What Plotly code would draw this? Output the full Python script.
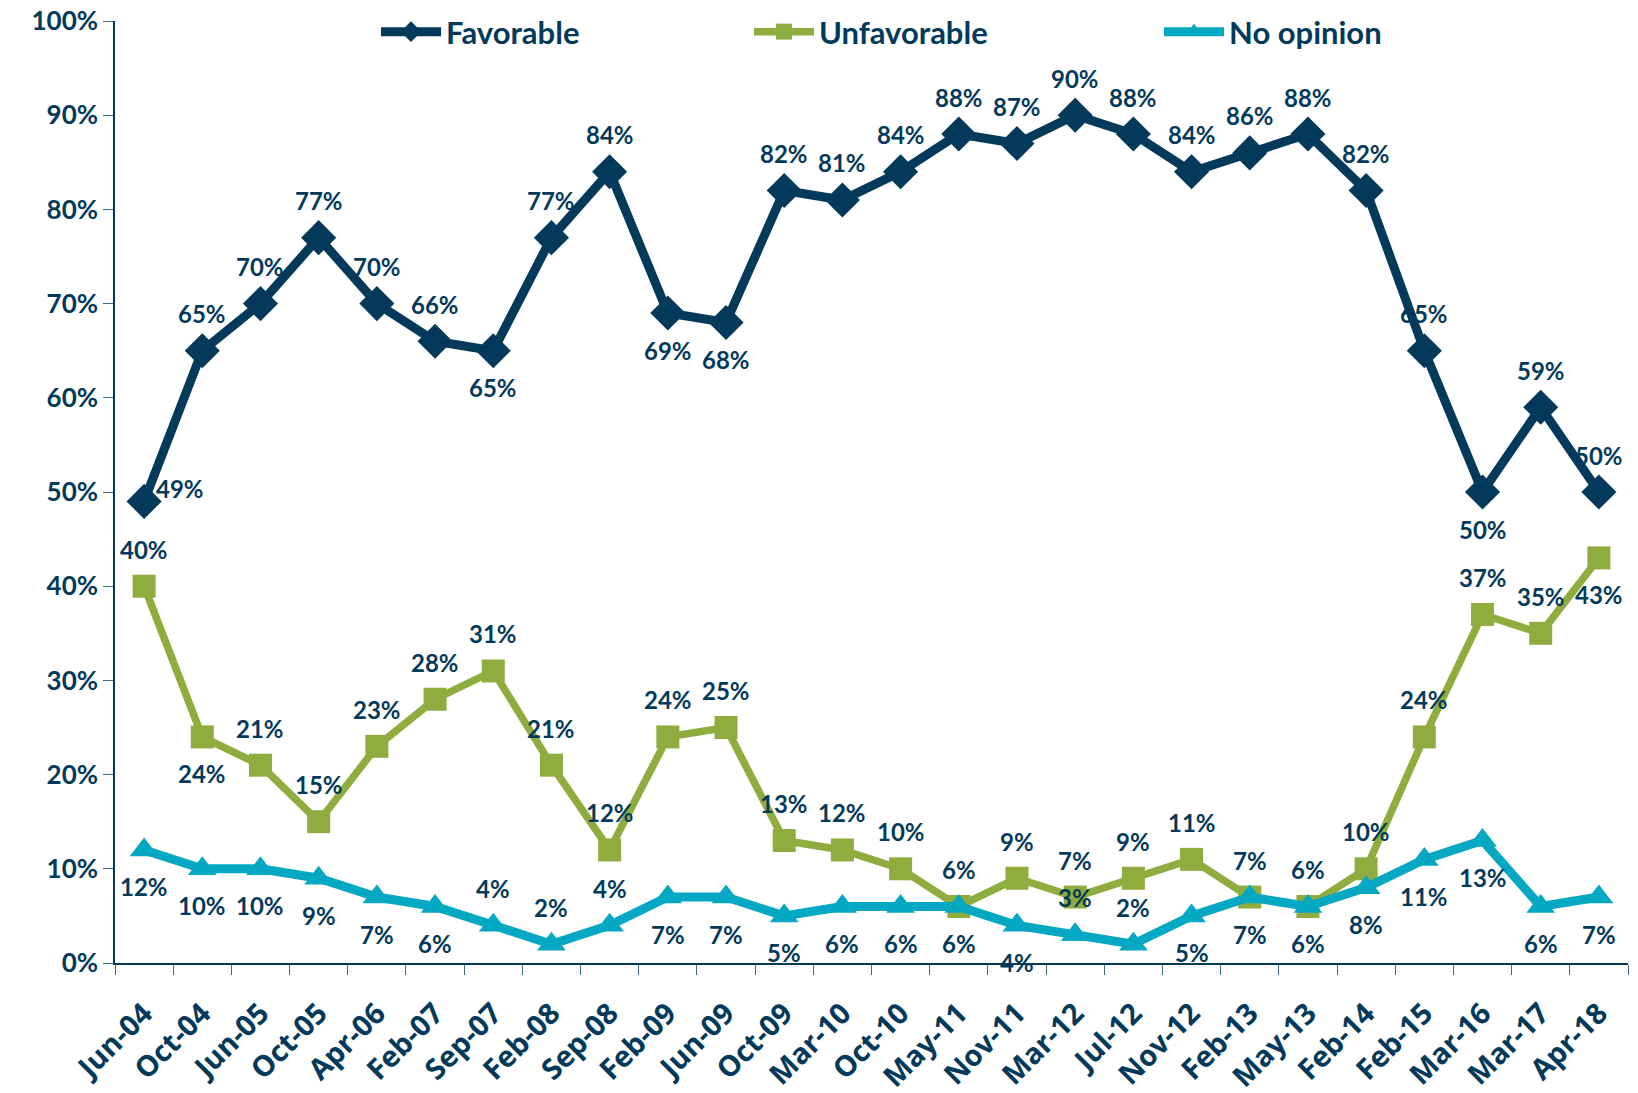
import plotly.graph_objects as go

categories = ["Jun-04", "Oct-04", "Jun-05", "Oct-05", "Apr-06", "Feb-07", "Sep-07", "Feb-08",
              "Sep-08", "Feb-09", "Jun-09", "Oct-09", "Mar-10", "Oct-10", "May-11", "Nov-11",
              "Mar-12", "Jul-12", "Nov-12", "Feb-13", "May-13", "Feb-14", "Feb-15", "Mar-16",
              "Mar-17", "Apr-18"]

favorable = [49, 65, 70, 77, 70, 66, 65, 77, 84, 69, 68, 82, 81, 84, 88, 87, 90, 88, 84, 86,
             88, 82, 65, 50, 59, 50]
unfavorable = [40, 24, 21, 15, 23, 28, 31, 21, 12, 24, 25, 13, 12, 10, 6, 9, 7, 9, 11, 7,
               6, 10, 24, 37, 35, 43]
no_opinion = [12, 10, 10, 9, 7, 6, 4, 2, 4, 7, 7, 5, 6, 6, 6, 4, 3, 2, 5, 7, 6, 8, 11, 13, 6, 7]

# label placement: t = above, b = below, r = right
fav_pos = ["r", "t", "t", "t", "t", "t", "b", "t", "t", "b", "b", "t", "t", "t", "t", "t",
           "t", "t", "t", "t", "t", "t", "t", "b", "t", "t"]
unf_pos = ["t", "b", "t", "t", "t", "t", "t", "t", "t", "t", "t", "t", "t", "t", "t", "t",
           "t", "t", "t", "t", "t", "t", "t", "t", "t", "b"]
noo_pos = ["b", "b", "b", "b", "b", "b", "t", "t", "t", "b", "b", "b", "b", "b", "b", "b",
           "t", "t", "b", "b", "b", "b", "b", "b", "b", "b"]

y_ticks = [0, 10, 20, 30, 40, 50, 60, 70, 80, 90, 100]
y_tick_labels = [f"{v}%" for v in y_ticks]

NAVY = "#033A5B"
GREEN = "#8FAD3E"
TEAL = "#05A8C3"
FONT = "Lato"

fig = go.Figure()

series = [
    ("Favorable", favorable, NAVY, "diamond", 9, 27, fav_pos, "legend", 0.1725),
    ("Unfavorable", unfavorable, GREEN, "square", 7.5, 23, unf_pos, "legend2", 0.419),
    ("No opinion", no_opinion, TEAL, "triangle-up", 9, 25, noo_pos, "legend3", 0.690),
]

legend_font = dict(family=FONT, size=31, color=NAVY, weight="bold")
legend_layouts = {}

for name, vals, color, sym, lw, ms, pos, leg, lx in series:
    fig.add_trace(go.Scatter(
        x=categories, y=vals, name=name, mode="lines+markers",
        line=dict(color=color, width=lw),
        marker=dict(symbol=sym, size=ms, color=color),
        legend=leg,
    ))
    legend_layouts[leg] = dict(x=lx, xanchor="left", y=1.017, yanchor="top",
                               orientation="h", font=legend_font, itemwidth=60,
                               bgcolor="rgba(0,0,0,0)")

for name, vals, color, sym, lw, ms, pos, leg, lx in series:
    for c, v, p in zip(categories, vals, pos):
        if p == "t":
            xs, ys = 0, 37
        elif p == "b":
            xs, ys = 0, -37
        else:
            xs, ys = 36, 13
        fig.add_annotation(
            x=c, y=v, text=f"{v}%", showarrow=False, xshift=xs, yshift=ys,
            font=dict(family=FONT, size=24, color=NAVY, weight="bold"),
        )

fig.update_layout(
    width=1638, height=1093,
    margin=dict(l=107, r=18, t=13, b=138, autoexpand=False),
    paper_bgcolor="white", plot_bgcolor="white",
    showlegend=True,
    font=dict(family=FONT, color=NAVY),
    **legend_layouts,
)

fig.update_xaxes(
    type="category", categoryorder="array", categoryarray=categories,
    showline=True, linecolor=NAVY, linewidth=1.5,
    ticks="outside", ticklen=10, tickcolor="#3F6A86", tickson="boundaries",
    tickangle=-45, ticklabelstandoff=20, ticklabeloverflow="allow",
    tickfont=dict(family="Open Sans", size=29, color=NAVY, weight=700),
    showgrid=False, range=[-0.5, len(categories) - 0.5], automargin=False,
)
fig.update_yaxes(
    range=[0, 100], tickvals=y_ticks, ticktext=y_tick_labels,
    showline=True, linecolor=NAVY, linewidth=1.5,
    ticks="outside", ticklen=10, tickcolor="#3F6A86", ticklabeloverflow="allow",
    tickfont=dict(family=FONT, size=26, color=NAVY, weight="bold"),
    showgrid=False, zeroline=False, automargin=False,
)

fig.write_html("out.html")
